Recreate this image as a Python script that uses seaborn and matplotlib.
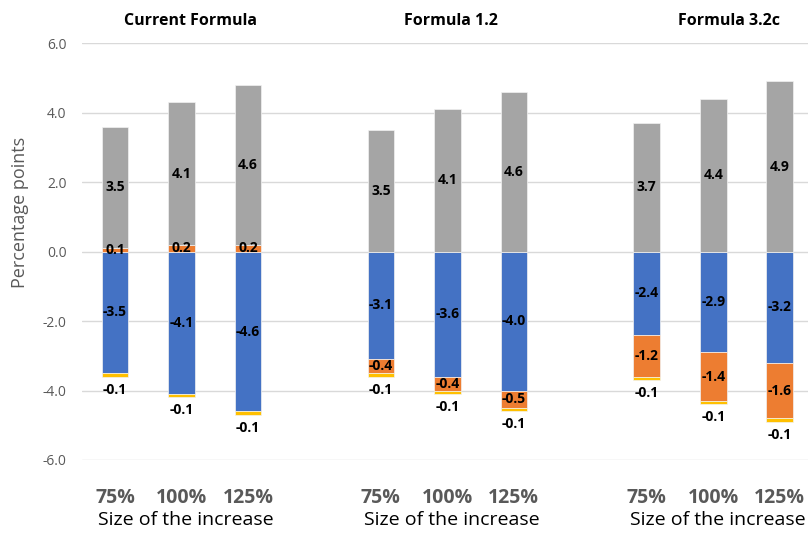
import numpy as np
import pandas as pd
import matplotlib
matplotlib.use("Agg")
import matplotlib.pyplot as plt
import matplotlib.transforms as mtransforms
import seaborn as sns

# ---- data -------------------------------------------------------------
formulas = ["Current Formula", "Formula 1.2", "Formula 3.2c"]
sizes = ["75%", "100%", "125%"]

# one value per bar, formula-major order (75%, 100%, 125% within each formula)
grey_vals = [3.5, 4.1, 4.6, 3.5, 4.1, 4.6, 3.7, 4.4, 4.9]
blue_vals = [-3.5, -4.1, -4.6, -3.1, -3.6, -4.0, -2.4, -2.9, -3.2]
orange_vals = [0.1, 0.2, 0.2, -0.4, -0.4, -0.5, -1.2, -1.4, -1.6]
yellow_vals = [-0.1, -0.1, -0.1, -0.1, -0.1, -0.1, -0.1, -0.1, -0.1]

y_ticks = [-6.0, -4.0, -2.0, 0.0, 2.0, 4.0, 6.0]

# ---- styling ----------------------------------------------------------
sns.set_style("white")
plt.rcParams["font.family"] = ["Open Sans", "DejaVu Sans"]

series = [  # stacking order away from zero
    ("blue", blue_vals, "#4472C4"),
    ("orange", orange_vals, "#ED7D31"),
    ("yellow", yellow_vals, "#FFC000"),
    ("grey", grey_vals, "#A5A5A5"),
]

# category slots with an empty slot between formula groups
slots = []
bar_slots = []
for i, f in enumerate(formulas):
    for s in sizes:
        slots.append(f"{f} {s}")
        bar_slots.append(f"{f} {s}")
    if i < len(formulas) - 1:
        slots.append(f"gap{i}")

# long table with stacked bottoms (positives up, negatives down)
rows = []
pos = np.zeros(len(bar_slots))
neg = np.zeros(len(bar_slots))
for name, vals, _ in series:
    for j, v in enumerate(vals):
        if v >= 0:
            b = pos[j]
            pos[j] += v
        else:
            b = neg[j]
            neg[j] += v
        rows.append(dict(slot=bar_slots[j], series=name, value=v, bottom=b))
df = pd.DataFrame(rows)

fig = plt.figure(figsize=(8.08, 5.34), dpi=100)
ax = fig.add_axes([81.7 / 808, 1 - 460 / 534, (808 - 81.7) / 808, (460 - 43.3) / 534])

for name, _, color in series:
    sub = df[df["series"] == name]
    sns.barplot(
        data=sub, x="slot", y="value", order=slots, color=color,
        width=0.4, saturation=1, errorbar=None,
        bottom=sub["bottom"].to_numpy(),
        edgecolor="#F2F2F2", linewidth=0.5, ax=ax,
    )

# data labels
xpos = {s: i for i, s in enumerate(slots)}
for _, r in df.iterrows():
    x = xpos[r["slot"]]
    lab = f"{r['value']:.1f}"
    if r["series"] == "yellow":
        ax.annotate(lab, (x, r["bottom"] + r["value"]), xytext=(0, -13),
                    textcoords="offset pixels", ha="center", va="center",
                    fontsize=10, fontweight="bold", color="black")
    else:
        ax.text(x, r["bottom"] + r["value"] / 2, lab, ha="center", va="center",
                fontsize=10, fontweight="bold", color="black")

# axes cosmetics
ax.set_ylim(-6, 6)
ax.set_xlim(-0.5, 10.425)
ax.set_yticks(y_ticks)
ax.set_yticklabels([f"{t:.1f}" for t in y_ticks], fontsize=10, color="#595959")
ax.set_xticks([xpos[s] for s in bar_slots])
ax.set_xticklabels(sizes * len(formulas), fontsize=14, fontweight="bold",
                   color="#595959")
ax.tick_params(axis="both", length=0)
ax.tick_params(axis="x", pad=20)
ax.tick_params(axis="y", pad=11)
ax.yaxis.grid(True, color="#D9D9D9", linewidth=1)
ax.xaxis.grid(False)
ax.set_axisbelow(True)
for sp in ax.spines.values():
    sp.set_visible(False)
ax.set_xlabel("")
ax.set_ylabel("Percentage points", fontsize=13, color="#595959")
ax.yaxis.set_label_coords(-0.072, 0.595)

# group titles and x-axis captions
blend = mtransforms.blended_transform_factory(ax.transData, fig.transFigure)
title_shift = [0.14, 0.05, 0.23]
for i, f in enumerate(formulas):
    center = xpos[f"{f} {sizes[1]}"]
    ax.text(center + title_shift[i], 1 - 21 / 534, f, transform=blend,
            ha="center", va="center", fontsize=11.5, fontweight="bold",
            color="black")
    ax.text(center + 0.07, 1 - 520 / 534, "Size of the increase",
            transform=blend, ha="center", va="center", fontsize=14,
            color="black")

fig.savefig("out.png", dpi=100)
